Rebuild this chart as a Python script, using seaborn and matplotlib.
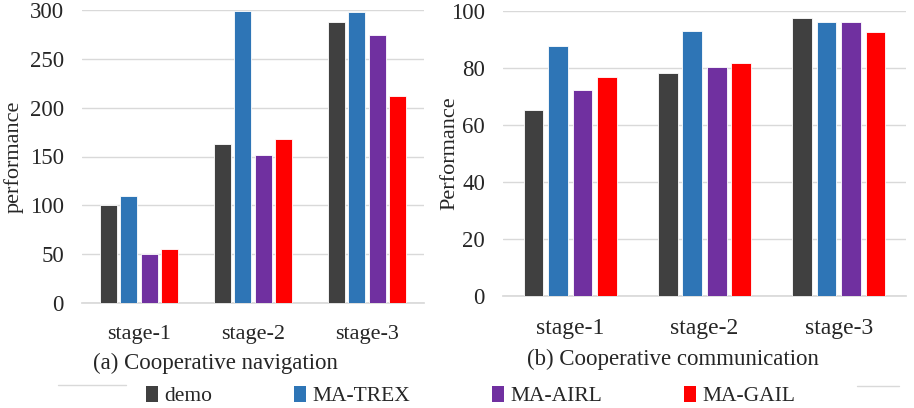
import pandas as pd
import seaborn as sns
import matplotlib
matplotlib.use('Agg')
import matplotlib.pyplot as plt
from matplotlib.patches import Patch
from matplotlib.lines import Line2D

# data
stages = ['stage-1', 'stage-2', 'stage-3']
methods = ['demo', 'MA-TREX', 'MA-AIRL', 'MA-GAIL']
colors = ['#404040', '#2E75B6', '#7030A0', '#FF0000']

nav_demo = [100, 163, 288]
nav_trex = [110, 299, 298]
nav_airl = [50, 152, 274]
nav_gail = [55, 168, 212]

com_demo = [65.3, 78.2, 97.7]
com_trex = [87.7, 93.0, 96.0]
com_airl = [72.3, 80.3, 96.3]
com_gail = [76.8, 81.6, 92.8]


def long_table(series):
    rows = []
    for m, vals in zip(methods, series):
        for s, v in zip(stages, vals):
            rows.append({'stage': s, 'method': m, 'value': v})
    return pd.DataFrame(rows)


nav_df = long_table([nav_demo, nav_trex, nav_airl, nav_gail])
com_df = long_table([com_demo, com_trex, com_airl, com_gail])

sns.set_theme(style='white')
plt.rcParams['font.family'] = ['Liberation Serif', 'DejaVu Serif']

W, H = 914, 408
fig = plt.figure(figsize=(W / 100, H / 100), dpi=100)

ax1 = fig.add_axes([82 / W, (H - 303) / H, 342 / W, 293 / H])
ax2 = fig.add_axes([503 / W, (H - 296) / H, 403 / W, 285 / H])

pal = dict(zip(methods, colors))
sns.barplot(data=nav_df, x='stage', y='value', hue='method', palette=pal,
            width=0.72, gap=0.17, saturation=1, legend=False, ax=ax1, zorder=3)
sns.barplot(data=com_df, x='stage', y='value', hue='method', palette=pal,
            width=0.73, gap=0.2, saturation=1, legend=False, ax=ax2, zorder=3)

for ax, top, step, lab, lx in [(ax1, 300, 50, 'performance', -0.170),
                                (ax2, 100, 20, 'Performance', -0.109)]:
    ax.set_ylim(0, top)
    ax.set_yticks(range(0, top + 1, step))
    ax.yaxis.grid(True, color='#d9d9d9', linewidth=1, zorder=0)
    ax.set_axisbelow(True)
    for sp in ['top', 'right', 'left']:
        ax.spines[sp].set_visible(False)
    ax.spines['bottom'].set_color('#d9d9d9')
    ax.tick_params(axis='both', length=0)
    ax.tick_params(axis='y', labelsize=16.5, pad=13)
    ax.set_xlabel('')
    ax.set_ylabel(lab, fontsize=16)
    ax.yaxis.set_label_coords(lx, 0.5)
    for p in ax.patches:
        p.set_edgecolor('white')
        p.set_linewidth(0.6)

ax1.tick_params(axis='x', labelsize=16, pad=16)
ax2.tick_params(axis='x', labelsize=17, pad=16)

fig.text(215 / W, 1 - 363 / H, '(a) Cooperative navigation', ha='center', va='center', fontsize=16.5)
fig.text(673 / W, 1 - 359 / H, '(b) Cooperative communication', ha='center', va='center', fontsize=16.5)

handles = [Patch(facecolor=c, edgecolor='none') for c in colors]
fig.legend(handles, methods, loc='center', bbox_to_anchor=(0.515, 1 - 396 / H), ncol=4,
           frameon=False, fontsize=15.5, handlelength=0.55, handleheight=0.75,
           handletextpad=0.3, columnspacing=3.8, borderpad=0)

fig.add_artist(Line2D([58 / W, 126 / W], [1 - 385 / H, 1 - 385 / H], color='#d9d9d9', lw=1))
fig.add_artist(Line2D([857 / W, 899 / W], [1 - 386 / H, 1 - 386 / H], color='#d9d9d9', lw=1))

fig.savefig('out.png', dpi=100)
